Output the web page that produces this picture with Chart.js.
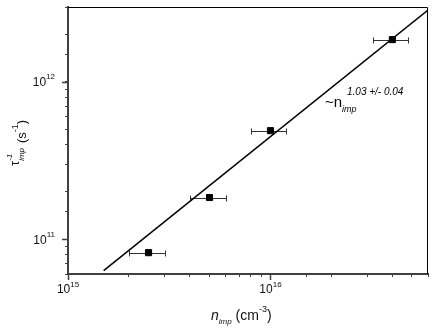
<!DOCTYPE html>
<html>
<head>
<meta charset="utf-8">
<script src="https://cdn.jsdelivr.net/npm/chart.js@4.4.1/dist/chart.umd.min.js"></script>
<style>
  html, body { margin: 0; padding: 0; background: #fff; }
</style>
</head>
<body>
<canvas id="plot" width="436" height="336"></canvas>
<script>
// measured points: impurity density vs inverse scattering time
const nImp = [2.5e15, 5e15, 1e16, 4e16];
const rate = [8.2e10, 1.84e11, 4.9e11, 1.86e12];
const nErr = [0.5e15, 1e15, 2e15, 0.8e16];
// power-law fit, end points
const fitN = [1.5e15, 6e16];
const fitRate = [6.3e10, 2.87e12];
// labelled decades
const xDecades = [15, 16];
const yDecades = [11, 12];

const FONT = "'Liberation Sans', Arial, sans-serif";

function runs(ctx, x, y, list) {
  // draws pieces of text one after another, with their own size / offset
  let cx = x;
  list.forEach(r => {
    ctx.font = r.f + " " + FONT;
    ctx.fillText(r.t, cx, y + (r.dy || 0));
    cx += ctx.measureText(r.t).width;
  });
  return cx;
}

const deco = {
  id: "deco",
  beforeDatasetsDraw(chart) {
    const { ctx, scales: { x, y } } = chart;
    ctx.save();
    ctx.strokeStyle = "#333";
    ctx.lineWidth = 1;
    nImp.forEach((n, i) => {
      const py = Math.round(y.getPixelForValue(rate[i])) + 0.5;
      const x1 = Math.round(x.getPixelForValue(n - nErr[i])) + 0.5;
      const x2 = Math.round(x.getPixelForValue(n + nErr[i])) + 0.5;
      ctx.beginPath();
      ctx.moveTo(x1, py); ctx.lineTo(x2, py);
      ctx.moveTo(x1, py - 3); ctx.lineTo(x1, py + 3);
      ctx.moveTo(x2, py - 3); ctx.lineTo(x2, py + 3);
      ctx.stroke();
    });
    ctx.restore();
  },
  afterDraw(chart) {
    const { ctx, chartArea: a, scales: { x, y } } = chart;
    ctx.save();
    // top and right frame
    ctx.strokeStyle = "#000";
    ctx.lineWidth = 1;
    ctx.beginPath();
    ctx.moveTo(a.left, a.top + 0.5);
    ctx.lineTo(a.right - 0.5, a.top + 0.5);
    ctx.lineTo(a.right - 0.5, a.bottom);
    ctx.stroke();

    // longer major ticks
    ctx.strokeStyle = "#404040";
    ctx.lineWidth = 1.5;
    ctx.beginPath();
    xDecades.forEach(e => {
      const px = Math.round(x.getPixelForValue(10 ** e)) + 0.5;
      ctx.moveTo(px, a.bottom); ctx.lineTo(px, a.bottom + 6);
    });
    yDecades.forEach(e => {
      const py = Math.round(y.getPixelForValue(10 ** e)) + 0.5;
      ctx.moveTo(a.left - 6, py); ctx.lineTo(a.left, py);
    });
    ctx.stroke();

    // tick labels 10^n
    ctx.fillStyle = "#111";
    ctx.textBaseline = "alphabetic";
    ctx.textAlign = "left";
    xDecades.forEach(e => {
      const px = x.getPixelForValue(10 ** e);
      ctx.font = "12px " + FONT;
      const w1 = ctx.measureText("10").width;
      ctx.font = "8px " + FONT;
      const w2 = ctx.measureText(String(e)).width;
      runs(ctx, px - (w1 + w2) / 2, 293, [{ t: "10", f: "12px" }, { t: String(e), f: "8px", dy: -6 }]);
    });
    yDecades.forEach(e => {
      const py = y.getPixelForValue(10 ** e);
      ctx.font = "12px " + FONT;
      const w1 = ctx.measureText("10").width;
      ctx.font = "8px " + FONT;
      const w2 = ctx.measureText(String(e)).width;
      runs(ctx, 55 - w1 - w2, py + 4.5, [{ t: "10", f: "12px" }, { t: String(e), f: "8px", dy: -7 }]);
    });

    // x title
    runs(ctx, 211, 320, [
      { t: "n", f: "italic 14px" },
      { t: "imp", f: "italic 8px", dy: 4 },
      { t: " (cm", f: "14px" },
      { t: "-3", f: "9px", dy: -8 },
      { t: ")", f: "14px" }
    ]);

    // y title, rotated
    ctx.save();
    ctx.rotate(-Math.PI / 2);
    ctx.font = "13px " + FONT;
    const u0 = -166;
    ctx.fillText("\u03c4", u0, 19);
    const wt = ctx.measureText("\u03c4").width;
    ctx.font = "italic 8px " + FONT;
    ctx.fillText("-1", u0 + wt, 12);
    ctx.fillText("imp", u0 + wt, 24);
    const ws = ctx.measureText("imp").width;
    runs(ctx, u0 + wt + ws + 5, 26, [
      { t: "(s", f: "13px" },
      { t: "-1", f: "9px", dy: -8 },
      { t: ")", f: "13px" }
    ]);
    ctx.restore();

    // fit annotation
    ctx.fillStyle = "#000";
    runs(ctx, 325, 107, [{ t: "~n", f: "15px" }]);
    ctx.font = "italic 9px " + FONT;
    ctx.fillText("imp", 342, 112);
    ctx.font = "italic 10px " + FONT;
    ctx.fillText("1.03 +/- 0.04", 347, 95);
    ctx.restore();
  }
};

const ctx = document.getElementById("plot").getContext("2d");
const chart = new Chart(ctx, {
  type: "scatter",
  data: {
    datasets: [
      {
        label: "data",
        data: nImp.map((n, i) => ({ x: n, y: rate[i] })),
        pointStyle: "rect",
        pointRadius: 4.3,
        backgroundColor: "#000",
        borderColor: "#000",
        borderWidth: 1
      },
      {
        label: "fit",
        data: fitN.map((n, i) => ({ x: n, y: fitRate[i] })),
        showLine: true,
        pointRadius: 0,
        borderColor: "#000",
        borderWidth: 1.5
      }
    ]
  },
  options: {
    responsive: false,
    animation: false,
    layout: { padding: { top: 7, right: 8, bottom: 0, left: 0 } },
    plugins: { legend: { display: false }, tooltip: { enabled: false } },
    scales: {
      x: {
        type: "logarithmic",
        min: 1e15,
        max: 6e16,
        ticks: { display: false },
        grid: { drawOnChartArea: false, tickLength: 3, color: "#404040" },
        border: { color: "#404040", width: 2 },
        afterFit(s) { s.height = 62; }
      },
      y: {
        type: "logarithmic",
        min: 6e10,
        max: 3e12,
        ticks: { display: false },
        grid: { drawOnChartArea: false, tickLength: 3, color: "#404040" },
        border: { color: "#404040", width: 2 },
        afterFit(s) { s.width = 68; }
      }
    }
  },
  plugins: [deco]
});
</script>
</body>
</html>
